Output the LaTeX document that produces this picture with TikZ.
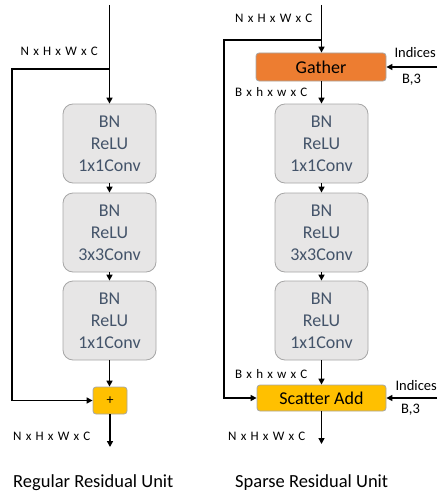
\documentclass[tikz,border=0pt]{standalone}
\usepackage{fontspec}
\setmainfont{Carlito}
\usetikzlibrary{arrows.meta}
\definecolor{boxfill}{HTML}{E7E6E6}
\definecolor{boxdraw}{HTML}{A6A6A6}
\definecolor{boxtext}{HTML}{44546A}
\definecolor{gatherc}{HTML}{ED7D31}
\definecolor{scatterc}{HTML}{FFC000}
\newcommand{\dimlblfont}{\fontsize{13}{15}\selectfont\spaceskip=4.2pt\relax}
\tikzset{
  convbox/.style={draw=boxdraw, fill=boxfill, rounded corners=10pt, minimum width=93pt, minimum height=79pt, inner sep=0pt, align=center, text=boxtext, font=\fontsize{18}{22}\selectfont, line width=0.8pt},
  opbox/.style={draw=boxdraw, rounded corners=3pt, inner sep=0pt, line width=0.8pt, font=\fontsize{18}{22}\selectfont},
  conn/.style={line width=1.6pt, -{Triangle[length=6pt,width=6pt]}},
  line/.style={line width=1.6pt},
  dimlbl/.style={font=\dimlblfont, inner sep=0pt},
  idxlbl/.style={font=\fontsize{14.5}{16}\selectfont, inner sep=0pt},
  title/.style={font=\fontsize{18.5}{22}\selectfont, inner sep=0pt, anchor=west}
}
\begin{document}
\begin{tikzpicture}[x=1pt,y=-1pt]
\useasboundingbox (0,0) rectangle (438,495);
% ---------- Left: regular residual unit ----------
\node[convbox] (l1) at (109.5,143.5) {BN\\ReLU\\1x1Conv};
\node[convbox] (l2) at (109.5,232.5) {BN\\ReLU\\3x3Conv};
\node[convbox] (l3) at (109.5,320.5) {BN\\ReLU\\1x1Conv};
\node[opbox, fill=scatterc, minimum width=34pt, minimum height=27pt, font=\fontsize{14}{16}\selectfont] (plus) at (110,400.5) {+};
\coordinate (ltop) at (109.5,5);
\coordinate (lbranch) at (109.5,69);
\coordinate (lcorner) at (12,69);
\coordinate (lout) at (110,447);
\draw[line] (ltop) -- (lbranch);
\draw[conn] (lbranch) -- (l1.north);
\draw[conn] (l1.south) -- (l2.north);
\draw[conn] (l2.south) -- (l3.north);
\draw[conn] (l3.south) -- (l3.south |- plus.north);
\draw[conn] (lbranch) -- (lcorner) |- (plus.west);
\draw[conn] (plus.south) -- (lout);
\node[dimlbl, anchor=east] (ldim1) at (98,51) {N x H x W x C};
\node[dimlbl, anchor=west] (ldim2) at (13,436) {N x H x W x C};
\node[title] (ltitle) at (13,483) {Regular Residual Unit};
% ---------- Right: sparse residual unit ----------
\node[opbox, fill=gatherc, minimum width=130pt, minimum height=28pt] (gather) at (321,67) {Gather};
\node[convbox] (r1) at (321.5,143.5) {BN\\ReLU\\1x1Conv};
\node[convbox] (r2) at (321.5,232.5) {BN\\ReLU\\3x3Conv};
\node[convbox] (r3) at (321.5,320.5) {BN\\ReLU\\1x1Conv};
\node[opbox, fill=scatterc, minimum width=129pt, minimum height=26pt] (scatter) at (321.5,398) {Scatter Add};
\coordinate (rtop) at (321.5,5);
\coordinate (rbranch) at (321.5,40);
\coordinate (rcorner) at (224,40);
\coordinate (rout) at (321.5,444);
\coordinate (gidx) at (437,67);
\coordinate (sidx) at (437,398);
\draw[line] (rtop) -- (rbranch);
\draw[conn] (rbranch) -- (rbranch |- gather.north);
\draw[conn] (gather.south -| r1.north) -- (r1.north);
\draw[conn] (r1.south) -- (r2.north);
\draw[conn] (r2.south) -- (r3.north);
\draw[conn] (r3.south) -- (r3.south |- scatter.north);
\draw[conn] (rbranch) -- (rcorner) |- (scatter.west);
\draw[conn] (scatter.south -| rout) -- (rout);
\draw[conn] (gidx) -- (gather.east);
\draw[conn] (sidx) -- (scatter.east);
\node[dimlbl, anchor=west] (rdim1) at (235,18) {N x H x W x C};
\node[dimlbl, anchor=west] (rdim2) at (235,92) {B x h x w x C};
\node[dimlbl, anchor=west] (rdim3) at (235,374) {B x h x w x C};
\node[dimlbl, anchor=west] (rdim4) at (228,436) {N x H x W x C};
\node[idxlbl, anchor=east] (gi1) at (436,53) {Indices};
\node[idxlbl, anchor=west] (gi2) at (402,80) {B,3};
\node[idxlbl, anchor=east] (si1) at (437,386) {Indices};
\node[idxlbl, anchor=west] (si2) at (401,410) {B,3};
\node[title] (rtitle) at (235,483) {Sparse Residual Unit};
\end{tikzpicture}
\end{document}
